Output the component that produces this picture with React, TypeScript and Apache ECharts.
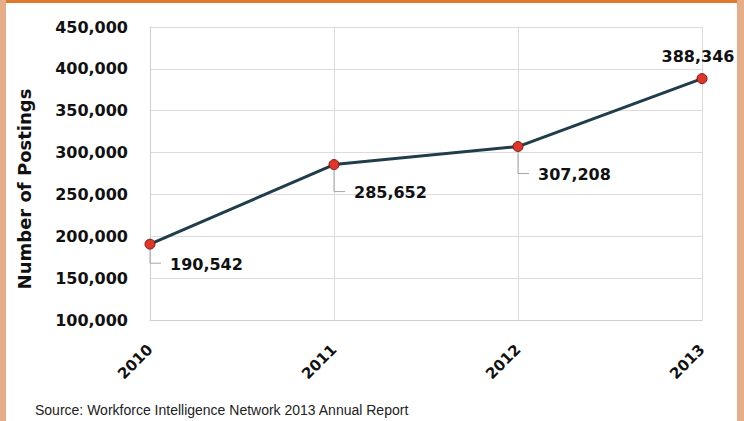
import React, { useEffect, useRef } from "react";
import * as echarts from "echarts";

const years = ["2010", "2011", "2012", "2013"];
const postings = [190542, 285652, 307208, 388346];
const yTicks = [100000, 150000, 200000, 250000, 300000, 350000, 400000, 450000];
const yAxisTitle = "Number of Postings";
const sourceText = "Source: Workforce Intelligence Network 2013 Annual Report";

const FONT = "'DejaVu Sans', sans-serif";

function fmt(v: number) {
  return v.toLocaleString("en-US");
}

export default function App() {
  const ref = useRef<HTMLDivElement>(null);
  useEffect(() => {
    document.body.style.margin = "0";
    const chart = echarts.init(ref.current!, null, { renderer: "svg" });
    const last = postings.length - 1;
    chart.setOption({
      animation: false,
      backgroundColor: "#ffffff",
      grid: { left: 150, right: 42, top: 27, bottom: 101 },
      xAxis: {
        type: "category",
        data: years,
        boundaryGap: false,
        axisLine: { lineStyle: { color: "#cfcfcf", width: 1 } },
        axisTick: { show: false },
        splitLine: { show: true, lineStyle: { color: "#dcdcdc", width: 1 } },
        axisLabel: {
          rotate: 45,
          margin: 27,
          color: "#111",
          fontFamily: FONT,
          fontWeight: "bold",
          fontSize: 15,
        },
      },
      yAxis: {
        type: "value",
        min: yTicks[0],
        max: yTicks[yTicks.length - 1],
        interval: 50000,
        axisLine: { show: true, lineStyle: { color: "#cfcfcf" } },
        axisTick: { show: false },
        splitLine: { show: true, lineStyle: { color: "#dcdcdc", width: 1 } },
        axisLabel: {
          margin: 22,
          color: "#111",
          fontFamily: FONT,
          fontWeight: "bold",
          fontSize: 16,
          formatter: (v: number) => fmt(v),
        },
      },
      series: [
        {
          type: "line",
          data: postings,
          lineStyle: { color: "#1f3d4a", width: 3 },
          symbol: "circle",
          symbolSize: 10,
          itemStyle: { color: "#e0352b", borderColor: "#7a1a14", borderWidth: 1 },
          z: 3,
        },
        {
          type: "custom",
          data: postings.map((v, i) => [i, v]),
          z: 4,
          renderItem: (params: any, api: any) => {
            const i = api.value(0);
            const p = api.coord([i, api.value(1)]);
            const label = fmt(api.value(1));
            const textStyle = {
              text: label,
              fill: "#111",
              font: "bold 16px " + FONT,
            };
            if (params.dataIndex === last) {
              return {
                type: "text",
                x: p[0] - 4,
                y: p[1] - 14,
                style: { ...textStyle, align: "center", verticalAlign: "bottom" },
              };
            }
            const dy = params.dataIndex === 0 ? 19 : 27;
            return {
              type: "group",
              children: [
                {
                  type: "polyline",
                  shape: { points: [[p[0], p[1] + 5], [p[0], p[1] + dy], [p[0] + 11, p[1] + dy]] },
                  style: { stroke: "#a6a6a6", lineWidth: 1, fill: null },
                },
                {
                  type: "text",
                  x: p[0] + 20,
                  y: p[1] + dy + 1,
                  style: { ...textStyle, align: "left", verticalAlign: "middle" },
                },
              ],
            };
          },
        },
      ],
      graphic: [
        { type: "rect", shape: { x: 0, y: 0, width: 744, height: 3 }, style: { fill: "#e0782f" } },
        { type: "rect", shape: { x: 0, y: 0, width: 6, height: 421 }, style: { fill: "#e6ae88" } },
        { type: "rect", shape: { x: 737, y: 0, width: 7, height: 421 }, style: { fill: "#e6ae88" } },
        {
          type: "text",
          x: 24,
          y: 189,
          rotation: Math.PI / 2,
          style: {
            text: yAxisTitle,
            fill: "#111",
            font: "bold 18px " + FONT,
            align: "center",
            verticalAlign: "middle",
          },
        },
        {
          type: "text",
          x: 35,
          y: 410,
          style: {
            text: sourceText,
            fill: "#222",
            font: "14px 'Liberation Sans', Arial, sans-serif",
            verticalAlign: "middle",
          },
        },
      ],
    });
    return () => chart.dispose();
  }, []);
  return <div ref={ref} style={{ position: "absolute", left: 0, top: 0, width: 744, height: 421 }} />;
}
